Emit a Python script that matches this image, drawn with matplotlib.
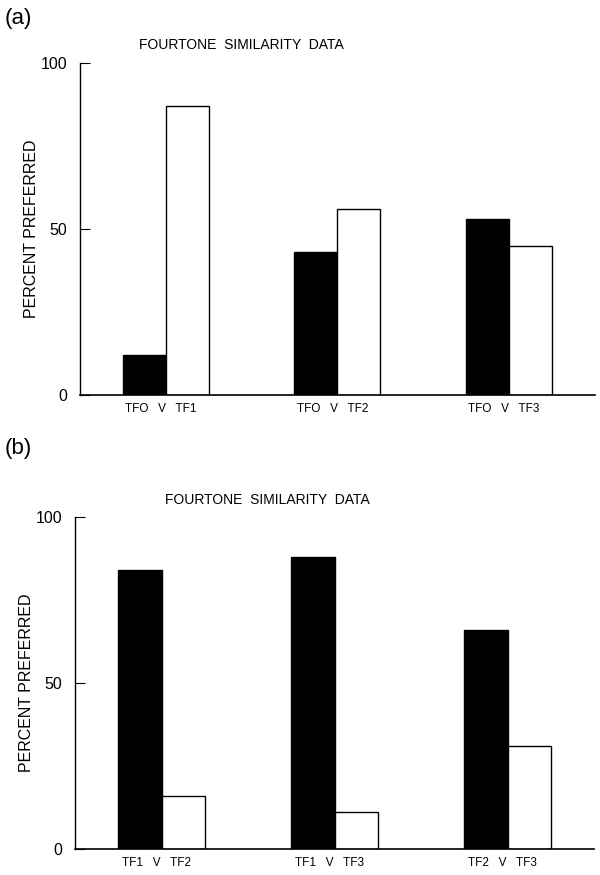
import matplotlib.pyplot as plt

plt.rcParams['font.family'] = ['Liberation Sans', 'DejaVu Sans']

# panel (a)
labels_a = ['TFO   V   TF1', 'TFO   V   TF2', 'TFO   V   TF3']
black_a = [12, 43, 53]
white_a = [87, 56, 45]

# panel (b)
labels_b = ['TF1   V   TF2', 'TF1   V   TF3', 'TF2   V   TF3']
black_b = [84, 88, 66]
white_b = [16, 11, 31]

title = 'FOURTONE  SIMILARITY  DATA'
ylabel = 'PERCENT PREFERRED'

fig = plt.figure(figsize=(6, 8.75), dpi=100)

# axes boxes in figure fractions (left, bottom, width, height)
boxes = [(0.1333, 0.5486, 0.858, 0.3794), (0.125, 0.0297, 0.865, 0.3794)]
panels = [(labels_a, black_a, white_a), (labels_b, black_b, white_b)]

for (box, (labels, blk, wht)) in zip(boxes, panels):
    ax = fig.add_axes(box)
    xs = [1, 2, 3]
    w = 0.25
    ax.bar([x - w / 2 for x in xs], blk, width=w, color='black',
           edgecolor='black', linewidth=1)
    ax.bar([x + w / 2 for x in xs], wht, width=w, color='white',
           edgecolor='black', linewidth=1)
    ax.set_xlim(0.5, 3.5)
    ax.set_ylim(0, 100)
    ax.spines['top'].set_visible(False)
    ax.spines['right'].set_visible(False)
    ax.spines['left'].set_linewidth(1)
    ax.spines['bottom'].set_linewidth(1.2)
    ax.set_yticks([0, 50, 100])
    ax.tick_params(axis='y', direction='in', length=7, labelsize=11.5, pad=9)
    ax.set_xticks([x - 0.03 for x in xs])
    ax.set_xticklabels(labels, fontsize=8.5)
    ax.tick_params(axis='x', length=0, pad=6)
    ax.set_ylabel(ylabel, fontsize=11.5, labelpad=1)

fig.text(0.403, 0.949, title, ha='center', va='center', fontsize=10)
fig.text(0.445, 0.428, title, ha='center', va='center', fontsize=10)
fig.text(0.008, 0.979, '(a)', ha='left', va='center', fontsize=16)
fig.text(0.008, 0.487, '(b)', ha='left', va='center', fontsize=16)

plt.savefig('out.png', dpi=100)
